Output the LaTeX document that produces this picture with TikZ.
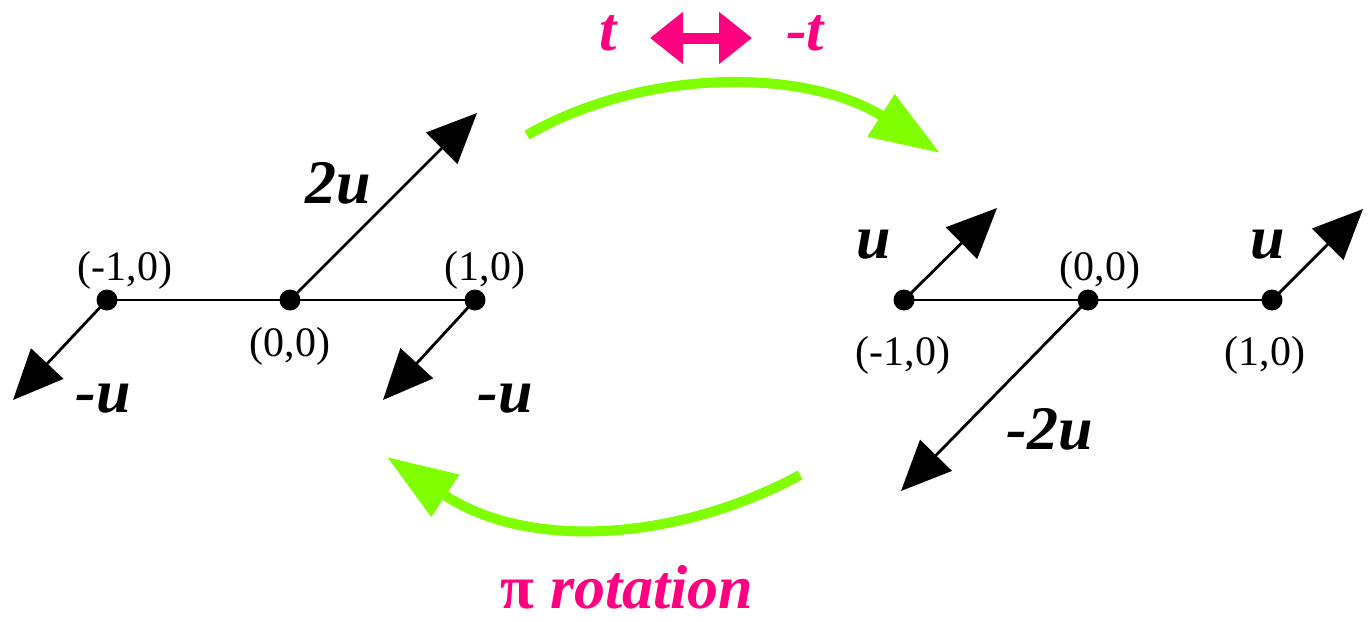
\documentclass[tikz,border=0pt]{standalone}
\usepackage{fontspec}
\setmainfont{Liberation Serif}[BoldFont={Liberation Serif Bold},ItalicFont={Liberation Serif Italic},BoldItalicFont={Liberation Serif Bold Italic}]
\newfontfamily\bifont{Liberation Serif Bold Italic}
\newfontfamily\bfont{Liberation Serif Bold}
\usetikzlibrary{arrows.meta}
\definecolor{lime}{RGB}{128,255,0}
\definecolor{hotpink}{RGB}{255,0,128}
\tikzset{
  dot/.style={circle,fill=black,inner sep=0pt,minimum size=10.5pt},
  vec/.style={line width=1.4pt,-{Triangle[length=25pt,width=22pt]}},
  bond/.style={line width=1.4pt},
  coord/.style={font=\fontsize{21pt}{25pt}\selectfont,anchor=base,inner sep=0pt},
  vlab/.style={font=\fontsize{31pt}{36pt}\selectfont\bifont,anchor=base,inner sep=0pt},
  plab/.style={font=\fontsize{31pt}{36pt}\selectfont\bifont,anchor=base,inner sep=0pt,text=hotpink},
  bigarrow/.style={line width=5pt,draw=lime,-{Triangle[length=35pt,width=24pt,fill=lime]}},
  pinkarrow/.style={line width=5.5pt,draw=hotpink,{Triangle[length=16.5pt,width=25pt,fill=hotpink]}-{Triangle[length=16.5pt,width=25pt,fill=hotpink]}}
}
\begin{document}
\begin{tikzpicture}[x=0.5pt,y=-0.5pt]
\useasboundingbox (0,0) rectangle (1370,621);
% left diagram
\node[dot] (L1) at (107,300) {};
\node[dot] (L0) at (290,300) {};
\node[dot] (L2) at (475,300) {};
\draw[bond] (L1.center) -- (L2.center);
\coordinate (L0t) at (477,113);
\coordinate (L1t) at (13,400);
\coordinate (L2t) at (383,400);
\draw[vec] (L0.center) -- (L0t);
\draw[vec] (L1.center) -- (L1t);
\draw[vec] (L2.center) -- (L2t);
\node[coord] (cL1) at (125,280) {(-1,0)};
\node[coord] (cL0) at (290,356) {(0,0)};
\node[coord] (cL2) at (485,280) {(1,0)};
\node[vlab] (l2u) at (338,203) {2u};
\node[vlab] (lmu1) at (103,412) {-u};
\node[vlab] (lmu2) at (505,412) {-u};
% right diagram
\node[dot] (R1) at (904,300) {};
\node[dot] (R0) at (1088,300) {};
\node[dot] (R2) at (1272,300) {};
\draw[bond] (R1.center) -- (R2.center);
\coordinate (R0t) at (901,491);
\coordinate (R1t) at (997,208);
\coordinate (R2t) at (1363,209);
\draw[vec] (R0.center) -- (R0t);
\draw[vec] (R1.center) -- (R1t);
\draw[vec] (R2.center) -- (R2t);
\node[coord] (cR1) at (903,365) {(-1,0)};
\node[coord] (cR0) at (1100,280) {(0,0)};
\node[coord] (cR2) at (1265,365) {(1,0)};
\node[vlab] (ru1) at (874,258) {u};
\node[vlab] (ru2) at (1268,258) {u};
\node[vlab] (rm2u) at (1050,449) {-2u};
% green arrows
\coordinate (g1s) at (527,135);
\coordinate (g1e) at (940,153);
\draw[bigarrow] (g1s) .. controls (650,65) and (810,70) .. (g1e);
\coordinate (g2s) at (800,475);
\coordinate (g2e) at (387,457);
\draw[bigarrow] (g2s) .. controls (680,540) and (530,552) .. (g2e);
% pink
\coordinate (pa) at (650,38);
\coordinate (pb) at (752,38);
\draw[pinkarrow] (pa) -- (pb);
\node[plab] (pt) at (608,50) {t};
\node[plab] (pmt) at (805,50) {-t};
\node[plab] (prot) at (627,608) {{\bfont π} rotation};
\end{tikzpicture}
\end{document}
